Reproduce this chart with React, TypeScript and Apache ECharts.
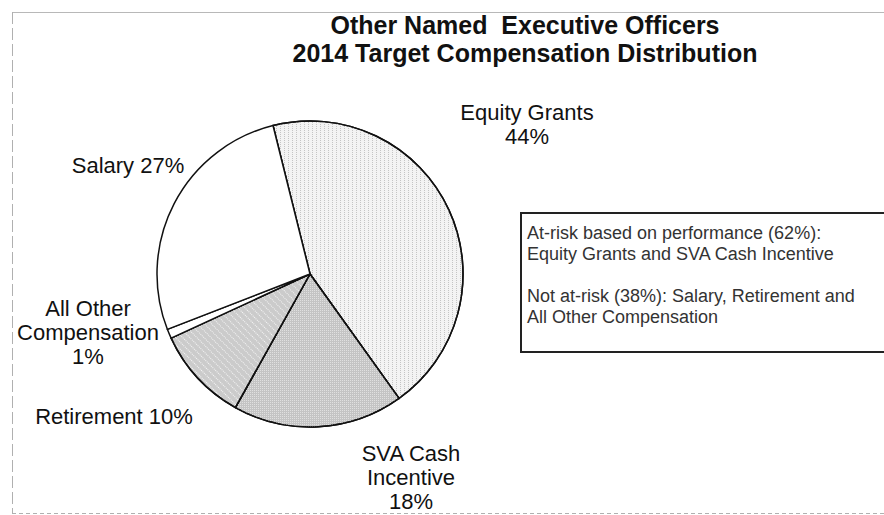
import React, { useEffect, useRef } from "react";
import * as echarts from "echarts";

const titleLines = ["Other Named  Executive Officers", "2014 Target Compensation Distribution"];
const categories = ["Equity Grants", "SVA Cash Incentive", "Retirement", "All Other Compensation", "Salary"];
const shares = [44, 18, 10, 1, 27];
const labelFormats = [
  "Equity Grants\n{v}%",
  "SVA Cash\nIncentive\n{v}%",
  "Retirement {v}%",
  "All Other\nCompensation\n{v}%",
  "Salary {v}%",
];
const noteLines = [
  "At-risk based on performance (62%):",
  "Equity Grants and SVA Cash Incentive",
  "",
  "Not at-risk (38%): Salary, Retirement and",
  "All Other Compensation",
];

const labelPos: Record<number, [number, number]> = {
  0: [527, 124],
  1: [411, 477],
  2: [114, 416],
  3: [88, 332],
  4: [128, 165],
};

const sliceStyles = [
  { color: "#f3f3f3", decal: { symbol: "rect", symbolSize: 1, dashArrayX: [1, 3], dashArrayY: [1, 1], color: "#c4c4c4" } },
  { color: "#c4c4c4", decal: { symbol: "rect", symbolSize: 1, dashArrayX: [1, 1], dashArrayY: [1, 1], color: "#e0e0e0" } },
  { color: "#cbcbcb", decal: { symbol: "rect", symbolSize: 1, dashArrayX: [1, 4], dashArrayY: [1, 1], rotation: -Math.PI / 4, color: "#f4f4f4" } },
  { color: "#ffffff" },
  { color: "#ffffff" },
];

export default function App() {
  const ref = useRef<HTMLDivElement>(null);
  useEffect(() => {
    const chart = echarts.init(ref.current!, undefined, { renderer: "svg" });
    const font = "Liberation Sans, Arial, sans-serif";
    chart.setOption({
      animation: false,
      backgroundColor: "#ffffff",
      title: {
        text: titleLines.join("\n"),
        left: 520,
        top: 6,
        textAlign: "center",
        textStyle: { fontFamily: font, fontSize: 25, fontWeight: "bold", color: "#111", lineHeight: 28 },
      },
      graphic: [
        { type: "line", shape: { x1: 12, y1: 12.5, x2: 884, y2: 12.5 }, style: { stroke: "#b8b8b8", lineWidth: 1 } },
        { type: "line", shape: { x1: 12.5, y1: 12, x2: 12.5, y2: 513 }, style: { stroke: "#b0b0b0", lineWidth: 1, lineDash: [12, 4] } },
        { type: "line", shape: { x1: 12, y1: 513.5, x2: 884, y2: 513.5 }, style: { stroke: "#b0b0b0", lineWidth: 1, lineDash: [4, 3] } },
        { type: "rect", shape: { x: 521, y: 213, width: 400, height: 139 }, style: { fill: "#fff", stroke: "#222", lineWidth: 2 } },
        {
          type: "text",
          x: 527,
          y: 222,
          style: {
            text: noteLines.join("\n"),
            font: `18px ${font}`,
            fill: "#333",
            lineHeight: 21,
          },
        },
      ],
      series: [
        {
          type: "pie",
          center: [310, 274],
          radius: 153,
          startAngle: 104,
          clockwise: true,
          avoidLabelOverlap: false,
          itemStyle: { borderColor: "#111", borderWidth: 1.5 },
          labelLine: { show: false },
          label: {
            show: true,
            position: "outside",
            fontFamily: font,
            fontSize: 22,
            lineHeight: 24,
            color: "#111",
            align: "center",
            formatter: (p: any) => labelFormats[p.dataIndex].replace("{v}", String(p.value)),
          },
          labelLayout: (p: any) => {
            const pos = labelPos[p.dataIndex];
            return { x: pos[0], y: pos[1], align: "center", verticalAlign: "middle" };
          },
          data: categories.map((name, i) => ({
            name,
            value: shares[i],
            itemStyle: { color: sliceStyles[i].color, decal: (sliceStyles[i] as any).decal },
          })),
        },
      ],
    });
    return () => chart.dispose();
  }, []);
  return <div ref={ref} style={{ position: "absolute", left: 0, top: 0, width: 884, height: 515 }} />;
}
